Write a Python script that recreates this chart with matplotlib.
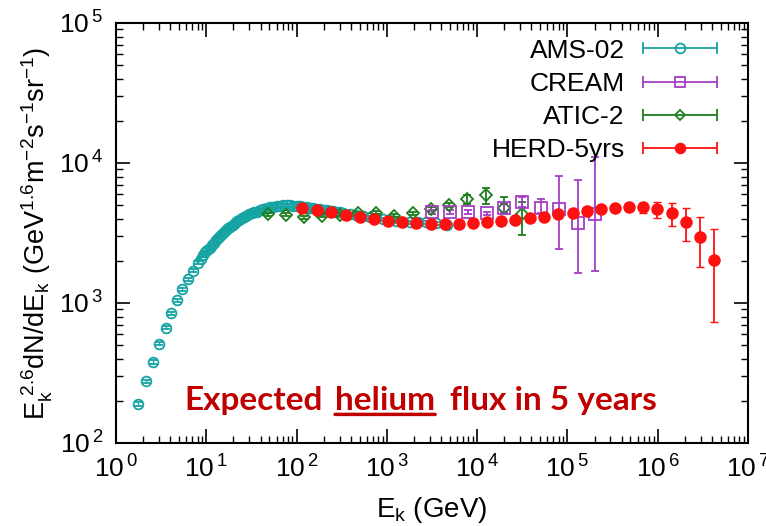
import numpy as np
import matplotlib
matplotlib.use("Agg")
from matplotlib import pyplot as plt
from matplotlib.legend_handler import HandlerErrorbar
from matplotlib.ticker import LogLocator, FuncFormatter

# AMS-02 helium (Ek in GeV, Ek^2.6 * flux)
ams_e = [1.77, 2.15, 2.55, 3.02, 3.55, 4.1, 4.78, 5.43, 6.22, 7.19, 8.17, 8.7, 9.27,
         9.8, 10.3, 10.9, 11.5, 12.1, 12.8, 13.5, 14.2, 14.9, 15.7, 16.6, 17.5,
         18.5, 19.6, 20.8, 22.0, 23.3, 24.7, 26.2, 27.9, 29.8, 31.8, 33.9, 36.1,
         39.3, 42.8, 46.5, 50.7, 55.2, 60.1, 65.5, 71.3, 77.7, 84.5, 92.0, 100,
         109, 118, 129, 140, 152, 166, 181, 197, 215, 233, 255, 277, 302, 328,
         389, 461, 546, 648, 768, 910, 1080, 1280, 1520, 1800, 2200, 2750, 3500, 4600]
ams_f = [190, 277, 379, 512, 667, 844, 1045, 1253, 1477, 1702, 1942, 2070, 2203,
         2300, 2393, 2490, 2594, 2700, 2818, 2915, 3013, 3120, 3228, 3320, 3415,
         3510, 3606, 3720, 3838, 3930, 4027, 4120, 4207, 4290, 4365, 4430, 4487,
         4580, 4667, 4750, 4831, 4885, 4931, 4965, 4989, 4995, 4989, 4965, 4931,
         4900, 4870, 4835, 4800, 4760, 4720, 4680, 4640, 4600, 4560, 4515, 4470, 4430, 4390,
         4300, 4220, 4150, 4080, 4020, 3960, 3900, 3850, 3800, 3780, 3760, 3760, 3720, 3600]

# CREAM
cream_e = [3133, 5000, 7852, 12740, 19820, 31620, 50470, 80540, 129700, 201800]
cream_f = [4487, 4487, 4487, 4365, 4742, 5236, 4742, 4688, 3707, 4325]
cream_lo = [4350, 4350, 4350, 4230, 4416, 4831, 4375, 2432, 1648, 1702]
cream_hi = [4630, 4630, 4630, 4500, 5093, 5689, 5508, 8110, 7568, 11090]

# ATIC-2
atic_e = [48.6, 75.7, 120.8, 192.8, 302.7, 483, 758, 1208, 1928, 3055, 4875,
          7780, 12420, 19820, 31620]
atic_f = [4295, 4256, 4111, 4207, 4256, 4365, 4416, 4207, 4365, 4667, 5012,
          5508, 5902, 4742, 4325]
atic_lo = [4190, 4150, 4010, 4100, 4150, 4250, 4300, 4090, 4240, 4520, 4840,
           5093, 5093, 4365, 3062]
atic_hi = [4400, 4360, 4210, 4310, 4360, 4480, 4530, 4320, 4490, 4810, 5190,
           5902, 6592, 5689, 5297]

# HERD 5 years (expected)
herd_e = [115.6, 169, 240, 349, 504, 719, 1021, 1455, 2099, 3055, 4436, 6281,
          9057, 12940, 18490, 26420, 38460, 54950, 79070, 114300, 163300, 233300,
          335700, 479700, 691800, 988600, 1426000, 2037000, 2931000, 4198000]
herd_f = [4742, 4613, 4446, 4256, 4093, 3963, 3873, 3811, 3707, 3664, 3664, 3664,
          3707, 3767, 3837, 3917, 4027, 4130, 4295, 4416, 4560, 4688, 4797, 4853,
          4831, 4667, 4365, 3767, 2979, 2028]
herd_lo = [4700, 4570, 4405, 4215, 4055, 3925, 3835, 3775, 3670, 3627, 3627, 3627,
           3670, 3730, 3800, 3878, 3985, 4085, 4245, 4360, 4495, 4600, 4690, 4720,
           4416, 4064, 3548, 2773, 1799, 735]
herd_hi = [4784, 4656, 4487, 4297, 4131, 4001, 3911, 3847, 3744, 3701, 3701, 3701,
           3744, 3804, 3874, 3956, 4069, 4175, 4345, 4472, 4625, 4776, 4905, 4990,
           5152, 5297, 5152, 4742, 4140, 3357]

c_ams = "#16a3a3"
c_cream = "#a43fc4"
c_atic = "#1e7d1e"
c_herd = "#ff1010"

plt.rcParams["font.family"] = ["Liberation Sans", "DejaVu Sans"]
plt.rcParams["mathtext.default"] = "regular"

fig = plt.figure(figsize=(7.66, 5.26), dpi=100)
ax = fig.add_axes([0.1514, 0.1578, 0.825, 0.7985])


def yerr(f, lo, hi):
    return [np.array(f) - np.array(lo), np.array(hi) - np.array(f)]


ams_err = [np.array(ams_f) * 0.025, np.array(ams_f) * 0.025]
ax.errorbar(ams_e, ams_f, yerr=ams_err, fmt="o", mfc="none", mec=c_ams, ms=7,
            mew=1.3, color=c_ams, ecolor=c_ams, elinewidth=1, capsize=3, zorder=2)
ax.errorbar(atic_e, atic_f, yerr=yerr(atic_f, atic_lo, atic_hi), fmt="D", mfc="none",
            mec=c_atic, ms=6, mew=1.3, color=c_atic, ecolor=c_atic, elinewidth=1.3,
            capsize=3, zorder=3)
ax.errorbar(cream_e, cream_f, yerr=yerr(cream_f, cream_lo, cream_hi), fmt="s",
            mfc="none", mec=c_cream, ms=8, mew=1.3, color=c_cream, ecolor=c_cream,
            elinewidth=1.3, capsize=3, zorder=3)
ax.errorbar(herd_e, herd_f, yerr=yerr(herd_f, herd_lo, herd_hi), fmt="o", mfc=c_herd,
            mec=c_herd, ms=8, color=c_herd, ecolor=c_herd, elinewidth=1.3,
            capsize=3, zorder=4)

# legend entries in gnuplot style (horizontal bar with caps)
handles = []
for lab, c, m, filled in [("AMS-02", c_ams, "o", False), ("CREAM", c_cream, "s", False),
                          ("ATIC-2", c_atic, "D", False), ("HERD-5yrs", c_herd, "o", True)]:
    h = ax.errorbar([np.nan], [np.nan], xerr=[1], fmt=m, color=c, ecolor=c,
                    mfc=c if filled else "none", mec=c, ms=7 if m != "D" else 5,
                    mew=1.3, elinewidth=1.3, capsize=4, label=lab)
    handles.append(h)

leg = ax.legend(handles=handles, loc="upper right", bbox_to_anchor=(0.972, 0.994),
                frameon=False, markerfirst=False, fontsize=19, numpoints=1,
                handlelength=2.8, handletextpad=0.7, labelspacing=0.35, borderpad=0,
                handler_map={type(handles[0]): HandlerErrorbar(xerr_size=1.4)})

ax.set_xscale("log")
ax.set_yscale("log")
ax.set_xlim(1, 1e7)
ax.set_ylim(1e2, 1e5)
ax.xaxis.set_major_locator(LogLocator(base=10, numticks=10))
ax.xaxis.set_minor_locator(LogLocator(base=10, subs=np.arange(2, 10), numticks=20))
pow_fmt = FuncFormatter(lambda v, pos: r"$10^{\,%d}$" % round(np.log10(v)))
ax.xaxis.set_major_formatter(pow_fmt)
ax.yaxis.set_major_formatter(pow_fmt)
ax.tick_params(which="both", direction="in", top=True, right=True, labelsize=19)
ax.tick_params(which="major", length=10, width=1.2, pad=9)
ax.tick_params(which="minor", length=5, width=1.0)
for s in ax.spines.values():
    s.set_linewidth(1.5)

ax.set_xlabel(r"$E_k$ (GeV)", fontsize=20, labelpad=9)
ax.set_ylabel(r"$E_k^{\ 2.6}dN/dE_k\ (GeV^{1.6}m^{-2}s^{-1}sr^{-1})$", fontsize=19.5,
              labelpad=3)

# annotation with underlined word
tc = "#c00000"
tkw = dict(fontsize=24, fontweight="bold", color=tc, family=["Lato", "DejaVu Sans"])
t1 = ax.text(0.109, 0.0786, "Expected", transform=ax.transAxes, va="baseline", **tkw)
t2 = ax.annotate("helium", xy=(1, 0), xycoords=t1, xytext=(8.5, 0),
                 textcoords="offset points", va="bottom", **tkw)
ax.annotate("flux in 5 years", xy=(1, 0), xycoords=t2, xytext=(11, 0),
            textcoords="offset points", va="bottom", **tkw)
ax.annotate("", xy=(0, 0.02), xycoords=t2, xytext=(1, 0.02), textcoords=t2,
            arrowprops=dict(arrowstyle="-", color=tc, lw=2.5, shrinkA=0, shrinkB=0))

fig.savefig("out.png", dpi=100)
